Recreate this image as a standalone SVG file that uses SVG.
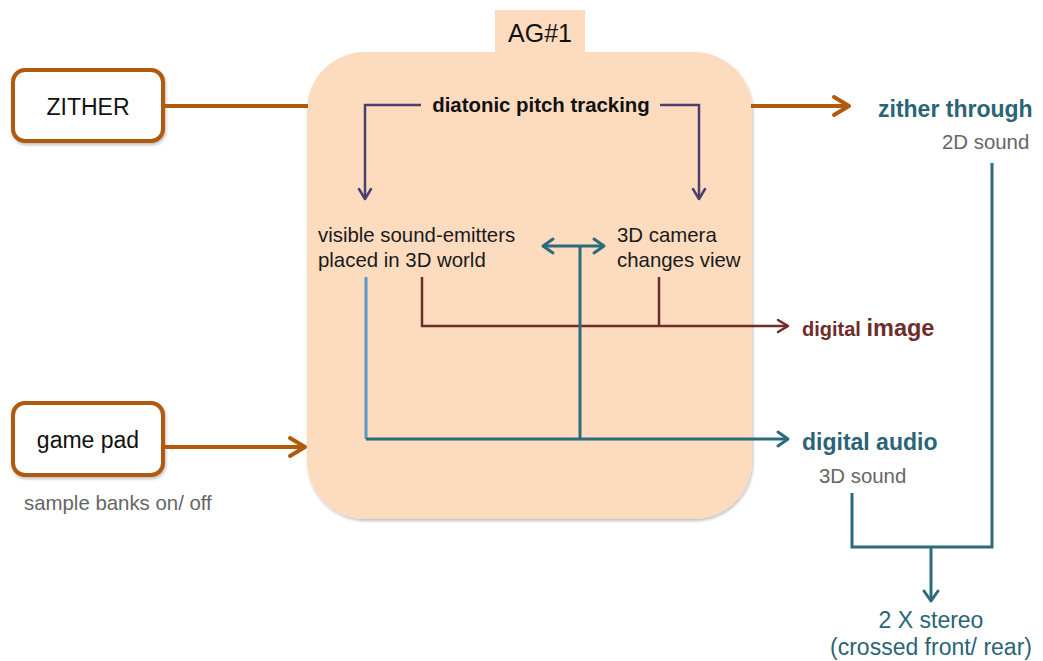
<svg xmlns="http://www.w3.org/2000/svg" width="1043" height="661" viewBox="0 0 1043 661">
<defs>
<filter id="sh" x="-10%" y="-10%" width="120%" height="120%">
<feDropShadow dx="1" dy="2" stdDeviation="1.5" flood-color="#000" flood-opacity="0.25"/>
</filter>
<marker id="ao" markerUnits="userSpaceOnUse" markerWidth="24" markerHeight="24" orient="auto" overflow="visible" refX="0" refY="0">
<path d="M-15,-9 L0,0 L-15,9" fill="none" stroke="#b05a0a" stroke-width="4" stroke-linecap="round" stroke-linejoin="round"/>
</marker>
<marker id="at" markerUnits="userSpaceOnUse" markerWidth="20" markerHeight="20" orient="auto-start-reverse" overflow="visible" refX="0" refY="0">
<path d="M-10,-7 L0,0 L-10,7" fill="none" stroke="#2c6b7b" stroke-width="3" stroke-linecap="round" stroke-linejoin="round"/>
</marker>
<marker id="ap" markerUnits="userSpaceOnUse" markerWidth="20" markerHeight="20" orient="auto" overflow="visible" refX="0" refY="0">
<path d="M-10,-6 L0,0 L-10,6" fill="none" stroke="#4b3f6b" stroke-width="2.5" stroke-linecap="round" stroke-linejoin="round"/>
</marker>
<marker id="ar" markerUnits="userSpaceOnUse" markerWidth="20" markerHeight="20" orient="auto" overflow="visible" refX="0" refY="0">
<path d="M-10,-6 L0,0 L-10,6" fill="none" stroke="#6e2d2a" stroke-width="2.5" stroke-linecap="round" stroke-linejoin="round"/>
</marker>
</defs>
<style>
text { font-family: "Liberation Sans", Arial, sans-serif; }
.box { fill: #ffffff; stroke: #b05a0a; stroke-width: 4; }
.lbl { font-size: 23px; fill: #111; text-anchor: middle; }
.inner { font-size: 20.4px; fill: #1a1a1a; }
.gray { font-size: 20.4px; fill: #666; }
.teal { fill: #2a6476; font-weight: bold; font-size: 23px; }
.or { stroke: #b05a0a; stroke-width: 4; fill: none; }
.tl { stroke: #2c6b7b; stroke-width: 3; fill: none; }
.pu { stroke: #4b3f6b; stroke-width: 2.5; fill: none; }
.rd { stroke: #6e2d2a; stroke-width: 2.5; fill: none; }
</style>
<rect width="1043" height="661" fill="#ffffff"/>

<g id="ag1">
<rect x="307" y="52" width="445" height="467" rx="58" ry="58" fill="#fddbbf" filter="url(#sh)"/>
<rect x="495" y="10" width="90" height="43" fill="#fddbbf"/>
<text x="540" y="42" font-size="25" fill="#111" text-anchor="middle">AG#1</text>
</g>

<g id="zither">
<rect class="box" x="13" y="70" width="150" height="71" rx="12" filter="url(#sh)"/>
<text class="lbl" x="88" y="115">ZITHER</text>
</g>

<g id="gamepad">
<rect class="box" x="13" y="403" width="150" height="72" rx="12" filter="url(#sh)"/>
<text class="lbl" x="88" y="448">game pad</text>
<text class="gray" x="24" y="510">sample banks on/ off</text>
</g>

<g id="connectors">
<line class="or" x1="163" y1="106" x2="308" y2="106"/>
<line class="or" x1="163" y1="447" x2="305" y2="447" marker-end="url(#ao)"/>
<line class="or" x1="751" y1="106" x2="849" y2="106" marker-end="url(#ao)"/>
<polyline class="pu" points="421,105 365,105 365,199" marker-end="url(#ap)"/>
<polyline class="pu" points="660,105 699,105 699,199" marker-end="url(#ap)"/>
<polyline class="rd" points="422,277 422,326 788,326" marker-end="url(#ar)"/>
<line class="rd" x1="659" y1="277" x2="659" y2="326"/>
<line x1="366" y1="277" x2="366" y2="439" stroke="#5a97c9" stroke-width="3"/>
<line class="tl" x1="366" y1="439" x2="788" y2="439" marker-end="url(#at)"/>
<line class="tl" x1="580" y1="439" x2="580" y2="246"/>
<line class="tl" x1="543" y1="246" x2="604" y2="246" marker-start="url(#at)" marker-end="url(#at)"/>
<polyline class="tl" points="992,163 992,547 852,547 852,493"/>
<line class="tl" x1="931" y1="547" x2="931" y2="601" marker-end="url(#at)"/>
</g>

<g id="pitch">
<text x="541" y="112" font-size="20.4" font-weight="bold" fill="#111" text-anchor="middle">diatonic pitch tracking</text>
</g>

<g id="emitters">
<text class="inner" x="318" y="242">visible sound-emitters</text>
<text class="inner" x="318" y="267">placed in 3D world</text>
</g>

<g id="camera">
<text class="inner" x="617" y="242">3D camera</text>
<text class="inner" x="617" y="267">changes view</text>
</g>

<g id="zitherthrough">
<text class="teal" x="878" y="117">zither through</text>
<text class="gray" x="942" y="149">2D sound</text>
</g>

<g id="digitalimage">
<text x="802" y="336" fill="#6e2d2a" font-weight="bold"><tspan font-size="20">digital </tspan><tspan font-size="23.5">image</tspan></text>
</g>

<g id="digitalaudio">
<text class="teal" x="802" y="450">digital audio</text>
<text class="gray" x="819" y="483">3D sound</text>
</g>

<g id="stereo">
<text x="931" y="628" font-size="23" fill="#2a6476" text-anchor="middle">2 X stereo</text>
<text x="931" y="655" font-size="23" fill="#2a6476" text-anchor="middle">(crossed front/ rear)</text>
</g>
</svg>
